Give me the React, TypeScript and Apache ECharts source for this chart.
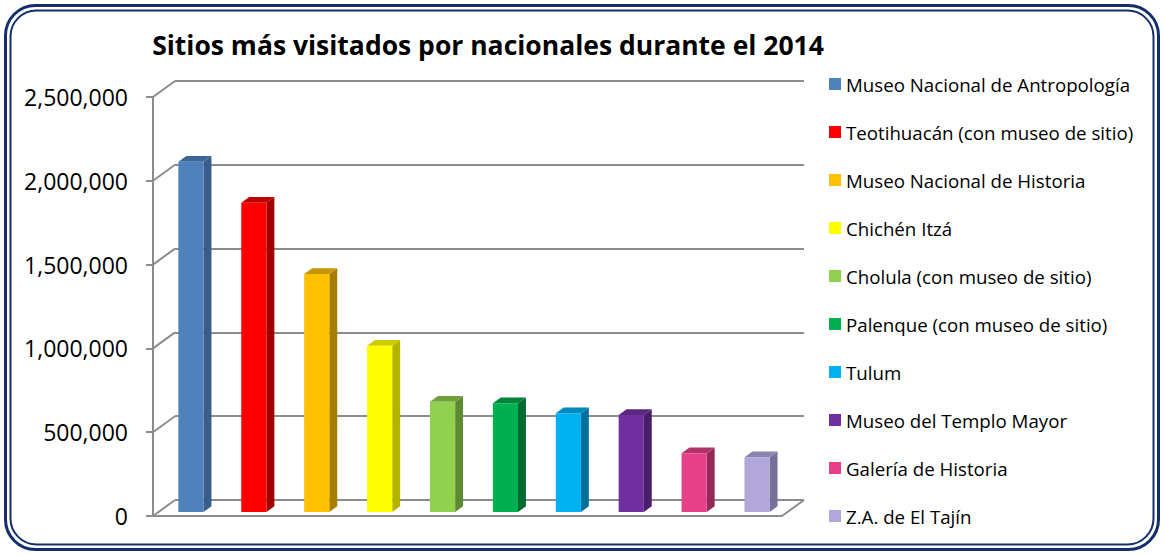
import React, { useEffect, useRef } from 'react';
import * as echarts from 'echarts';

const titleText = 'Sitios más visitados por nacionales durante el 2014';
const categories = [
  'Museo Nacional de Antropología',
  'Teotihuacán (con museo de sitio)',
  'Museo Nacional de Historia',
  'Chichén Itzá',
  'Cholula (con museo de sitio)',
  'Palenque (con museo de sitio)',
  'Tulum',
  'Museo del Templo Mayor',
  'Galería de Historia',
  'Z.A. de El Tajín',
];
const values = [2090000, 1845000, 1420000, 992000, 658000, 649000, 589000, 579000, 350000, 326000];
const frontColors = ['#4f81bd', '#ff0000', '#ffc000', '#ffff00', '#92d050', '#00b050', '#00b0f0', '#7030a0', '#e8418a', '#b1a7db'];
const sideColors = ['#385d8a', '#a00000', '#a67d00', '#b3b300', '#5e8a33', '#006b30', '#00719c', '#4a1f6a', '#962858', '#77709a'];
const topColors = ['#3d6596', '#c00000', '#c89600', '#cccc00', '#6fa03c', '#00843c', '#0089bc', '#5a2782', '#b03368', '#8b84b0'];
const tickValues = [0, 500000, 1000000, 1500000, 2000000, 2500000];

const DEPTH_X = 22;
const DEPTH_Y = -16;
const F0 = 0.25;
const F1 = 0.61;
const BAR_FRAC = 0.4;
const GRID_COLOR = '#8c8c8c';
const FONT = 'Open Sans';

export default function App() {
  const ref = useRef<HTMLDivElement>(null);

  useEffect(() => {
    document.body.style.margin = '0';
    const chart = echarts.init(ref.current!, null, { renderer: 'svg' });

    const barSeries = categories.map((name, i) => ({
      type: 'custom',
      name,
      xAxisIndex: 0,
      yAxisIndex: 0,
      z: 5,
      itemStyle: { color: frontColors[i] },
      data: [[i, values[i]]],
      renderItem: (params: any, api: any) => {
        const x = api.value(0);
        const v = api.value(1);
        const base = api.coord([x, 0]);
        const top = api.coord([x, v]);
        const bw = api.size([1, 0])[0] * BAR_FRAC;
        const xL = base[0] - bw / 2 + F0 * DEPTH_X + 1;
        const xR = xL + bw;
        const yB = base[1] + F0 * DEPTH_Y;
        const yT = top[1] + F0 * DEPTH_Y;
        const ddx = (F1 - F0) * DEPTH_X;
        const ddy = (F1 - F0) * DEPTH_Y;
        return {
          type: 'group',
          children: [
            {
              type: 'polygon',
              shape: { points: [[xR, yT], [xR + ddx, yT + ddy], [xR + ddx, yB + ddy], [xR, yB]] },
              style: { fill: sideColors[i] },
            },
            {
              type: 'polygon',
              shape: { points: [[xL, yT], [xR, yT], [xR + ddx, yT + ddy], [xL + ddx, yT + ddy]] },
              style: { fill: topColors[i] },
            },
            {
              type: 'rect',
              shape: { x: xL, y: yT, width: bw, height: yB - yT },
              style: { fill: frontColors[i] },
            },
          ],
        };
      },
    }));

    const frameSeries = {
      type: 'custom',
      name: 'frame',
      xAxisIndex: 0,
      yAxisIndex: 0,
      z: 3,
      silent: true,
      data: tickValues.map((v) => [0, v]),
      renderItem: (params: any, api: any) => {
        const cs = params.coordSys;
        const y = api.coord([0, api.value(1)])[1];
        const children: any[] = [
          {
            type: 'line',
            shape: { x1: cs.x, y1: y, x2: cs.x + DEPTH_X, y2: y + DEPTH_Y },
            style: { stroke: GRID_COLOR, lineWidth: 2 },
          },
        ];
        if (api.value(1) === 0) {
          const xr = cs.x + cs.width;
          children.push({
            type: 'line',
            shape: { x1: xr, y1: y, x2: xr + DEPTH_X, y2: y + DEPTH_Y },
            style: { stroke: GRID_COLOR, lineWidth: 2 },
          });
        }
        return { type: 'group', children };
      },
    };

    chart.setOption({
      animation: false,
      backgroundColor: '#ffffff',
      graphic: [
        {
          type: 'rect',
          shape: { x: 5.5, y: 5.5, width: 1153, height: 544, r: 30 },
          style: { fill: 'none', stroke: '#132e6a', lineWidth: 3 },
        },
        {
          type: 'rect',
          shape: { x: 10.5, y: 10.5, width: 1143, height: 534, r: 26 },
          style: { fill: 'none', stroke: '#132e6a', lineWidth: 2 },
        },
        {
          type: 'text',
          x: 488,
          y: 45,
          style: {
            text: titleText,
            fontFamily: FONT,
            fontSize: 26.5,
            fontWeight: 'bold',
            fill: '#000000',
            textAlign: 'center',
            textVerticalAlign: 'middle',
          },
        },
      ],
      legend: {
        data: categories,
        orient: 'vertical',
        left: 824,
        top: 69,
        icon: 'rect',
        itemWidth: 12,
        itemHeight: 12,
        itemGap: 28,
        selectedMode: false,
        textStyle: { fontFamily: FONT, fontSize: 18.7, color: '#000000', lineHeight: 20 },
      },
      grid: [
        { left: 153, right: 382, top: 97, bottom: 39 },
        { left: 175, right: 360, top: 81, bottom: 55 },
      ],
      xAxis: [
        {
          type: 'category',
          gridIndex: 0,
          data: categories,
          axisLine: { show: true, lineStyle: { color: GRID_COLOR, width: 2 } },
          axisTick: { show: false },
          axisLabel: { show: false },
        },
        {
          type: 'category',
          gridIndex: 1,
          data: categories,
          show: false,
        },
      ],
      yAxis: [
        {
          type: 'value',
          gridIndex: 0,
          min: 0,
          max: 2500000,
          interval: 500000,
          axisLine: { show: true, lineStyle: { color: GRID_COLOR, width: 2 } },
          axisTick: { show: true, length: 7, lineStyle: { color: GRID_COLOR, width: 2 } },
          splitLine: { show: false },
          axisLabel: {
            margin: 25,
            fontFamily: FONT,
            fontSize: 23,
            color: '#000000',
            formatter: (v: number) => v.toLocaleString('en-US'),
          },
        },
        {
          type: 'value',
          gridIndex: 1,
          min: 0,
          max: 2500000,
          interval: 500000,
          axisLine: { show: false },
          axisTick: { show: false },
          axisLabel: { show: false },
          splitLine: { show: true, lineStyle: { color: GRID_COLOR, width: 2 } },
        },
      ],
      series: [frameSeries, ...barSeries],
    });

    return () => chart.dispose();
  }, []);

  return (
    <div
      ref={ref}
      style={{ position: 'absolute', left: 0, top: 0, width: 1164, height: 555 }}
    />
  );
}
